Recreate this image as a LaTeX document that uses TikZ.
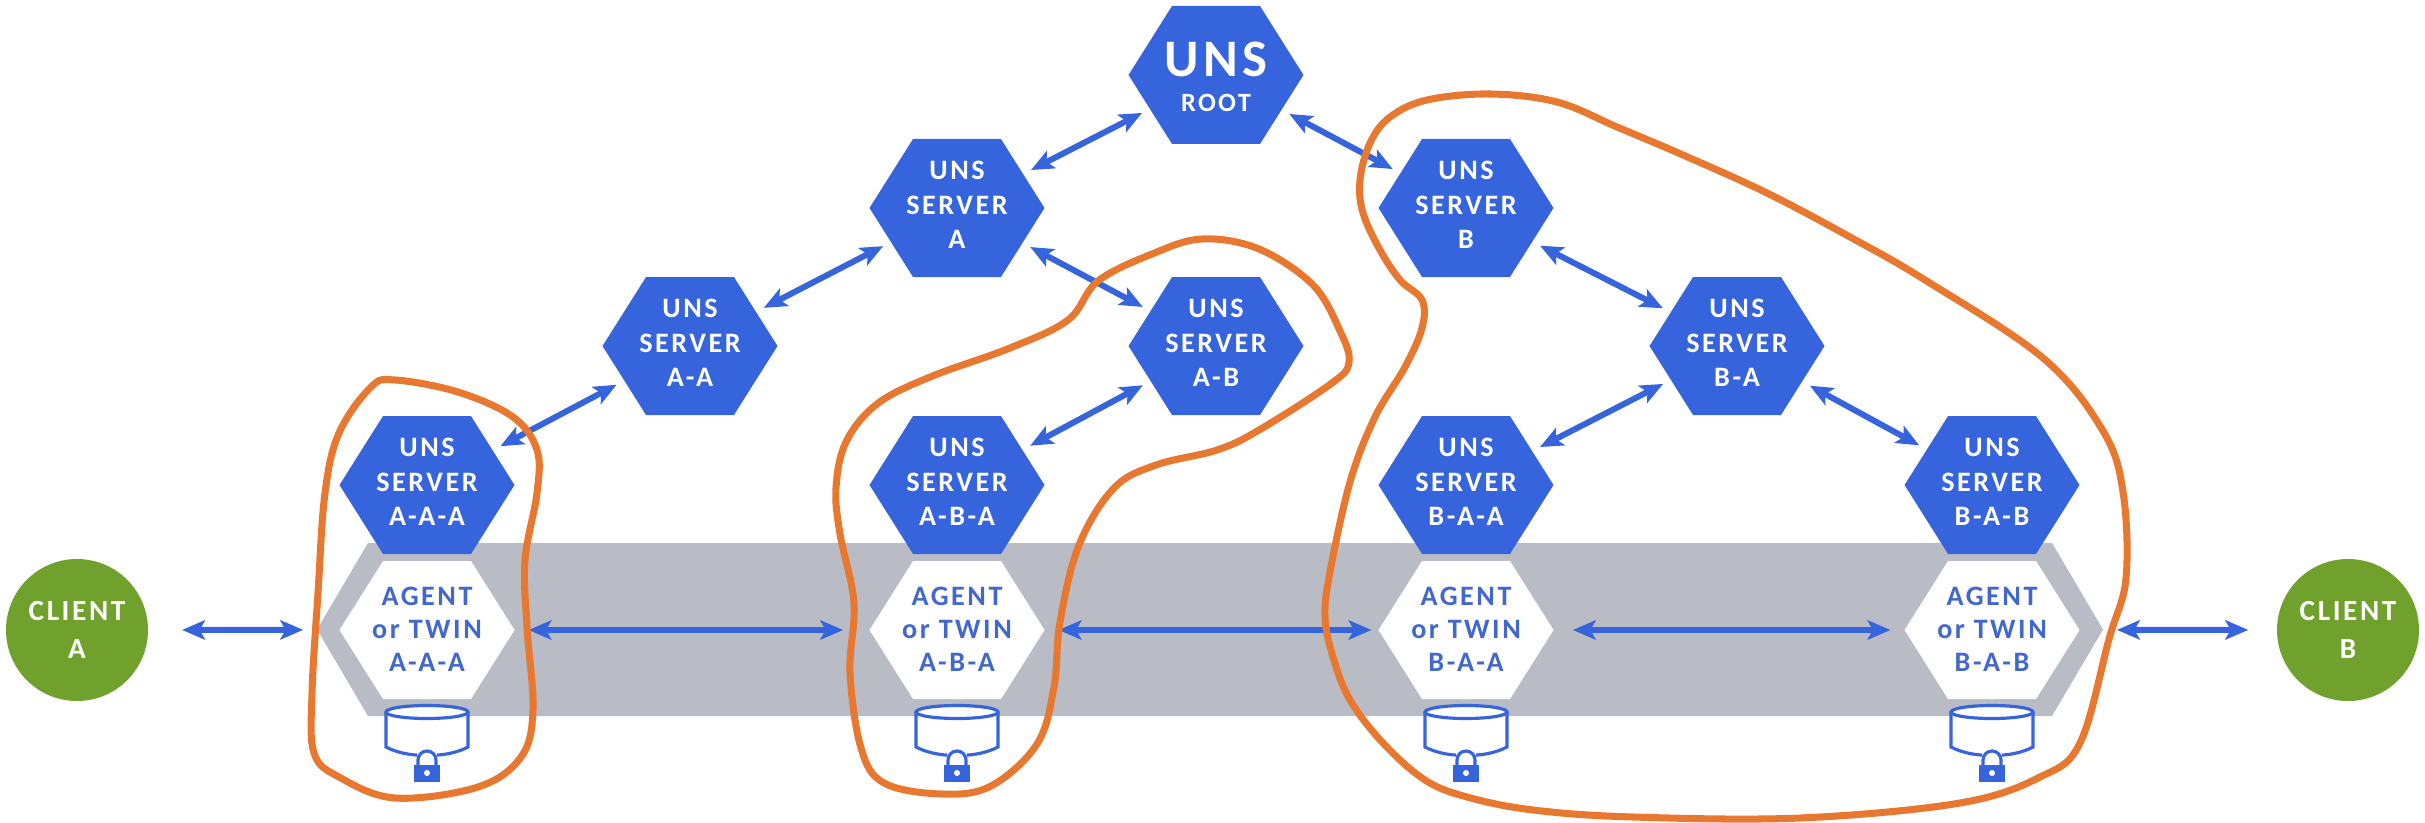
\documentclass[tikz,border=0pt]{standalone}
\usepackage{fontspec}
\usepackage{tikz}
\usetikzlibrary{arrows.meta,shapes.symbols}
\setmainfont{Carlito}
\newfontfamily\unsfont{Carlito}[LetterSpace=9]
\definecolor{unsblue}{RGB}{54,100,220}
\definecolor{agentblue}{RGB}{66,104,206}
\definecolor{bandgray}{RGB}{185,188,196}
\definecolor{clientgreen}{RGB}{113,161,45}
\definecolor{lassoorange}{RGB}{232,120,48}
\newcommand{\hexlabel}[2][-1.8pt]{\makebox[0pt]{\smash{\raisebox{#1}{\begin{tabular}{@{}c@{}}#2\end{tabular}}}}}

\begin{document}
\begin{tikzpicture}

\tikzset{hexagon/.style = {shape=signal,signal to=east and west,signal pointer angle=115.5,minimum width=1.75cm,minimum height=1.38cm,inner sep=0pt,outer sep=0pt}}
\tikzset{server/.style = {hexagon,fill=unsblue,text=white,font=\unsfont\fontsize{8}{9.8}\selectfont\bfseries}}
\tikzset{agent/.style = {hexagon,fill=white,text=agentblue,font=\unsfont\fontsize{8}{9.4}\selectfont\bfseries}}
\tikzset{client/.style = {shape=circle,fill=clientgreen,text=white,minimum size=1.42cm,inner sep=0pt,align=center,font=\unsfont\fontsize{8.3}{11}\selectfont\bfseries}}
\tikzset{arc/.style = {{Stealth[length=6.5pt,width=5.5pt,inset=1.5pt]}-{Stealth[length=6.5pt,width=5.5pt,inset=1.5pt]},line width=1.7pt,unsblue,shorten <=2.5pt,shorten >=2.5pt}}
\tikzset{lasso/.style = {draw=lassoorange,line width=2pt}}
\tikzset{dblock/.pic = {
  \fill[white] (-0.41,-0.07) -- (-0.41,-0.42) -- (-0.1,-0.5) -- (0.1,-0.5) -- (0.41,-0.42) -- (0.41,-0.07) -- cycle;
  \draw[unsblue,line width=0.9pt] (-0.41,-0.07) -- (-0.41,-0.42) .. controls (-0.3,-0.48) and (-0.15,-0.5) .. (-0.1,-0.5);
  \draw[unsblue,line width=0.9pt] (0.41,-0.07) -- (0.41,-0.42) .. controls (0.3,-0.48) and (0.15,-0.5) .. (0.1,-0.5);
  \draw[unsblue,line width=0.9pt,fill=white] (0,-0.07) ellipse (0.41 and 0.065);
  \draw[unsblue,line width=0.9pt] (-0.09,-0.6) -- (-0.09,-0.55) arc (180:0:0.09) -- (0.09,-0.6);
  \fill[unsblue] (-0.13,-0.6) rectangle (0.13,-0.77);
  \fill[white] (0,-0.68) circle (0.03);
}}

\useasboundingbox (0,0) rectangle (24.25,8.22);

% band
\node[hexagon,fill=bandgray,minimum width=17.86cm,minimum height=1.73cm,signal pointer angle=119] (band) at (12.10,1.925) {};

% agents
\node[agent] (tagaaa) at (4.27,1.92) {\hexlabel[-2.6pt]{AGENT\\or TWIN\\A-A-A}};
\node[agent] (tagaba) at (9.57,1.92) {\hexlabel[-2.6pt]{AGENT\\or TWIN\\A-B-A}};
\node[agent] (tagbaa) at (14.66,1.92) {\hexlabel[-2.6pt]{AGENT\\or TWIN\\B-A-A}};
\node[agent] (tagbab) at (19.92,1.92) {\hexlabel[-2.6pt]{AGENT\\or TWIN\\B-A-B}};

% servers
\node[server] (root) at (12.16,7.47) {\hexlabel[-4pt]{{\fontsize{15}{15}\selectfont UNS}\\[0pt]{\fontsize{7.5}{9}\selectfont ROOT}}};
\node[server] (a) at (9.57,6.14) {\hexlabel{UNS\\SERVER\\A}};
\node[server] (b) at (14.66,6.14) {\hexlabel{UNS\\SERVER\\B}};
\node[server] (aa) at (6.90,4.76) {\hexlabel{UNS\\SERVER\\A-A}};
\node[server] (ab) at (12.16,4.76) {\hexlabel{UNS\\SERVER\\A-B}};
\node[server] (ba) at (17.37,4.76) {\hexlabel{UNS\\SERVER\\B-A}};
\node[server] (aaa) at (4.27,3.37) {\hexlabel{UNS\\SERVER\\A-A-A}};
\node[server] (aba) at (9.57,3.37) {\hexlabel{UNS\\SERVER\\A-B-A}};
\node[server] (baa) at (14.66,3.37) {\hexlabel{UNS\\SERVER\\B-A-A}};
\node[server] (bab) at (19.92,3.37) {\hexlabel{UNS\\SERVER\\B-A-B}};

% clients
\node[client] (clienta) at (0.77,1.92) {CLIENT\\A};
\node[client] (clientb) at (23.48,1.92) {CLIENT\\B};

% stores
\pic at (4.27,1.17) {dblock};
\pic at (9.57,1.17) {dblock};
\pic at (14.66,1.17) {dblock};
\pic at (19.92,1.17) {dblock};

% arcs
\draw[arc] (root) to (a);
\draw[arc] (root) to (b);
\draw[arc] (a) to (aa);
\draw[arc] (a) to (ab);
\draw[arc] (b) to (ba);
\draw[arc] (aa) to (aaa);
\draw[arc] (ab) to (aba);
\draw[arc] (ba) to (baa);
\draw[arc] (ba) to (bab);

% links
\draw[arc,shorten <=9.5pt,shorten >=4pt] (clienta) to (band);
\draw[arc,shorten <=4pt,shorten >=7.5pt] (tagaaa) to (tagaba);
\draw[arc,shorten <=4pt,shorten >=2pt] (tagaba) to (tagbaa);
\draw[arc,shorten <=5.5pt,shorten >=4pt] (tagbaa) to (tagbab);
\draw[arc,shorten <=4pt,shorten >=8pt] (band) to (clientb);

% lassos
\draw[lasso] plot[smooth cycle,tension=0.6] coordinates {(3.95,4.42) (4.58,4.30) (5.13,4.05) (5.37,3.72) (5.37,3.29) (5.25,2.62) (5.27,1.95) (5.33,1.12) (5.21,0.65) (4.78,0.35) (3.95,0.24) (3.39,0.45) (3.14,0.69) (3.12,1.29) (3.18,2.29) (3.25,3.29) (3.39,3.89) (3.71,4.35)};
\draw[lasso] plot[smooth cycle,tension=0.6] coordinates {(8.36,3.34) (8.46,3.80) (8.77,4.18) (9.30,4.45) (10.10,4.74) (10.68,5.02) (10.98,5.41) (11.52,5.68) (12.02,5.83) (12.59,5.73) (13.13,5.37) (13.40,4.91) (13.49,4.60) (13.32,4.39) (12.59,3.92) (12.17,3.72) (11.56,3.57) (11.14,3.34) (10.79,2.77) (10.60,2.00) (10.54,1.35) (10.37,0.78) (9.91,0.36) (9.42,0.28) (8.84,0.39) (8.61,0.74) (8.50,1.50) (8.54,2.19) (8.40,2.88)};
\draw[lasso] plot[smooth cycle,tension=0.6] coordinates {(13.60,6.42) (13.70,6.79) (13.90,7.05) (14.27,7.22) (14.90,7.28) (15.57,7.20) (16.17,6.95) (16.83,6.67) (17.67,6.29) (18.50,5.85) (19.25,5.42) (20.43,4.64) (21.03,3.91) (21.23,3.30) (21.26,2.44) (21.09,1.83) (20.80,0.79) (20.40,0.45) (19.60,0.19) (18.00,0.04) (16.33,0.05) (15.33,0.12) (14.67,0.25) (14.25,0.42) (13.83,0.79) (13.50,1.22) (13.33,1.65) (13.25,2.05) (13.30,2.50) (13.50,3.40) (13.75,4.05) (14.05,4.55) (14.22,4.94) (14.22,5.22) (14.00,5.42) (13.80,5.72) (13.63,6.09)};

\end{tikzpicture}
\end{document}
